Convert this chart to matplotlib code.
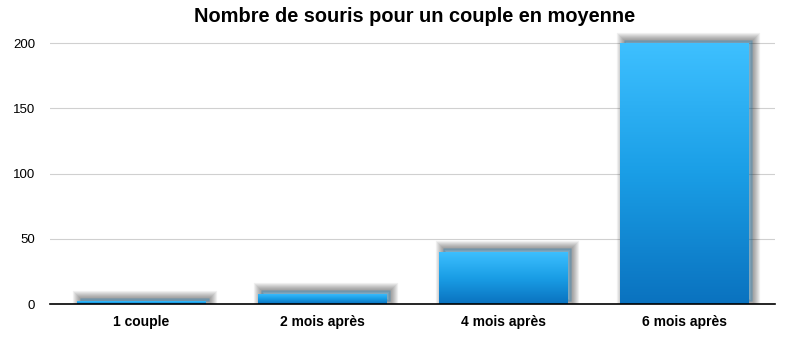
import numpy as np
import matplotlib.pyplot as plt
import matplotlib.patheffects as pe
from matplotlib.colors import LinearSegmentedColormap

# données
categories = ['1 couple', '2 mois après', '4 mois après', '6 mois après']
souris = [2, 8, 40, 200]
yticks = [0, 50, 100, 150, 200]

plt.rcParams['font.family'] = ['Liberation Sans', 'DejaVu Sans']

fig = plt.figure(figsize=(8, 3.42), dpi=100)
ax = fig.add_axes([0.063, 0.111, 0.906, 0.801])

cmap = LinearSegmentedColormap.from_list('bleu', ['#0a72bf', '#1a9ee6', '#3ec0ff'])

x = np.arange(len(categories))
# ombre floue décalée vers le haut à droite
ombre = [pe.Stroke(linewidth=w, foreground='black', alpha=0.06, offset=(2.5, 2.5))
         for w in (11, 9.5, 8, 6.5, 5, 3.5, 2)] + [pe.Normal()]
bars = ax.bar(x, souris, width=0.71, color='#1a9ee6', zorder=3, path_effects=ombre)

# dégradé vertical dans chaque barre
grad = np.linspace(0, 1, 256).reshape(-1, 1)
for b in bars:
    x0, y0 = b.get_x(), b.get_y()
    w, h = b.get_width(), b.get_height()
    im = ax.imshow(grad, cmap=cmap, origin='lower', aspect='auto',
                   extent=(x0, x0 + w, y0, y0 + h), zorder=4)
    im.set_clip_path(b)

ax.set_xlim(-0.5, 3.5)
ax.set_ylim(0, 210)
ax.set_xticks(x)
ax.set_xticklabels(categories, fontsize=10, fontweight='bold')
ax.set_yticks(yticks)
ax.tick_params(axis='y', length=0, pad=11, labelsize=9.5)
ax.tick_params(axis='x', length=0, pad=8)
ax.yaxis.grid(True, color='#d0d0d0', linewidth=0.8, zorder=0)
ax.set_axisbelow(True)
for s in ['top', 'right', 'left']:
    ax.spines[s].set_visible(False)
ax.spines['bottom'].set_color('black')
ax.spines['bottom'].set_linewidth(1.2)
ax.spines['bottom'].set_zorder(5)

fig.text(0.518, 0.953, 'Nombre de souris pour un couple en moyenne',
         ha='center', va='center', fontsize=14.4, fontweight='bold')

fig.savefig('out.png', dpi=100)
